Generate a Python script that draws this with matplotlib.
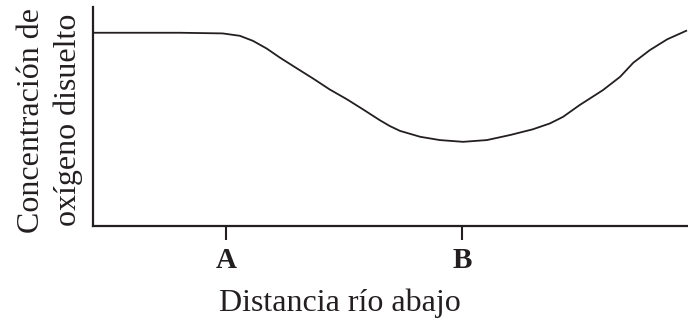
import matplotlib.pyplot as plt

# Curve (arbitrary units, 0-100 on both axes)
distance = [0.0, 14.6, 21.8, 24.7, 26.9, 29.2, 31.4, 34.3, 37.0, 39.8, 42.7, 45.4,
            48.2, 49.9, 51.6, 55.0, 58.3, 62.2, 66.2, 70.1, 73.9, 76.8, 79.0,
            81.8, 85.7, 88.6, 90.8, 93.6, 96.5, 99.7]
oxygen = [88.3, 88.3, 88.0, 86.9, 84.6, 81.1, 77.0, 72.0, 67.4, 62.4, 57.9, 53.3,
          48.4, 45.7, 43.5, 40.8, 39.3, 38.5, 39.3, 41.6, 44.2, 46.9, 49.9,
          55.3, 62.1, 68.2, 74.6, 80.4, 85.3, 89.2]
tick_pos = [22.4, 62.0]
tick_labels = ['A', 'B']

plt.rcParams['font.family'] = ['Liberation Serif', 'DejaVu Serif']

fig = plt.figure(figsize=(6.88, 3.24), dpi=100)
ax = fig.add_axes([0.135, 0.302, 0.865, 0.676])

ax.plot(distance, oxygen, color='#231f20', lw=1.3, solid_joinstyle='round')
ax.set_xlim(0, 100)
ax.set_ylim(0, 100)

for s in ['top', 'right']:
    ax.spines[s].set_visible(False)
for s in ['left', 'bottom']:
    ax.spines[s].set_linewidth(1.6)
    ax.spines[s].set_color('#231f20')

ax.set_xticks(tick_pos)
ax.set_xticklabels(tick_labels, fontsize=21, fontweight='bold', color='#231f20')
ax.set_yticks([])
ax.tick_params(axis='x', direction='out', length=10, width=1.5, pad=5, color='#231f20')

ax.set_xlabel('Distancia río abajo', fontsize=23, color='#231f20')
ax.xaxis.set_label_coords(0.415, -0.285)
ax.set_ylabel('Concentración de\noxígeno disuelto', fontsize=23, color='#231f20',
              linespacing=1.32)
ax.yaxis.set_label_coords(-0.017, 0.484)

plt.savefig('out.png', dpi=100)
